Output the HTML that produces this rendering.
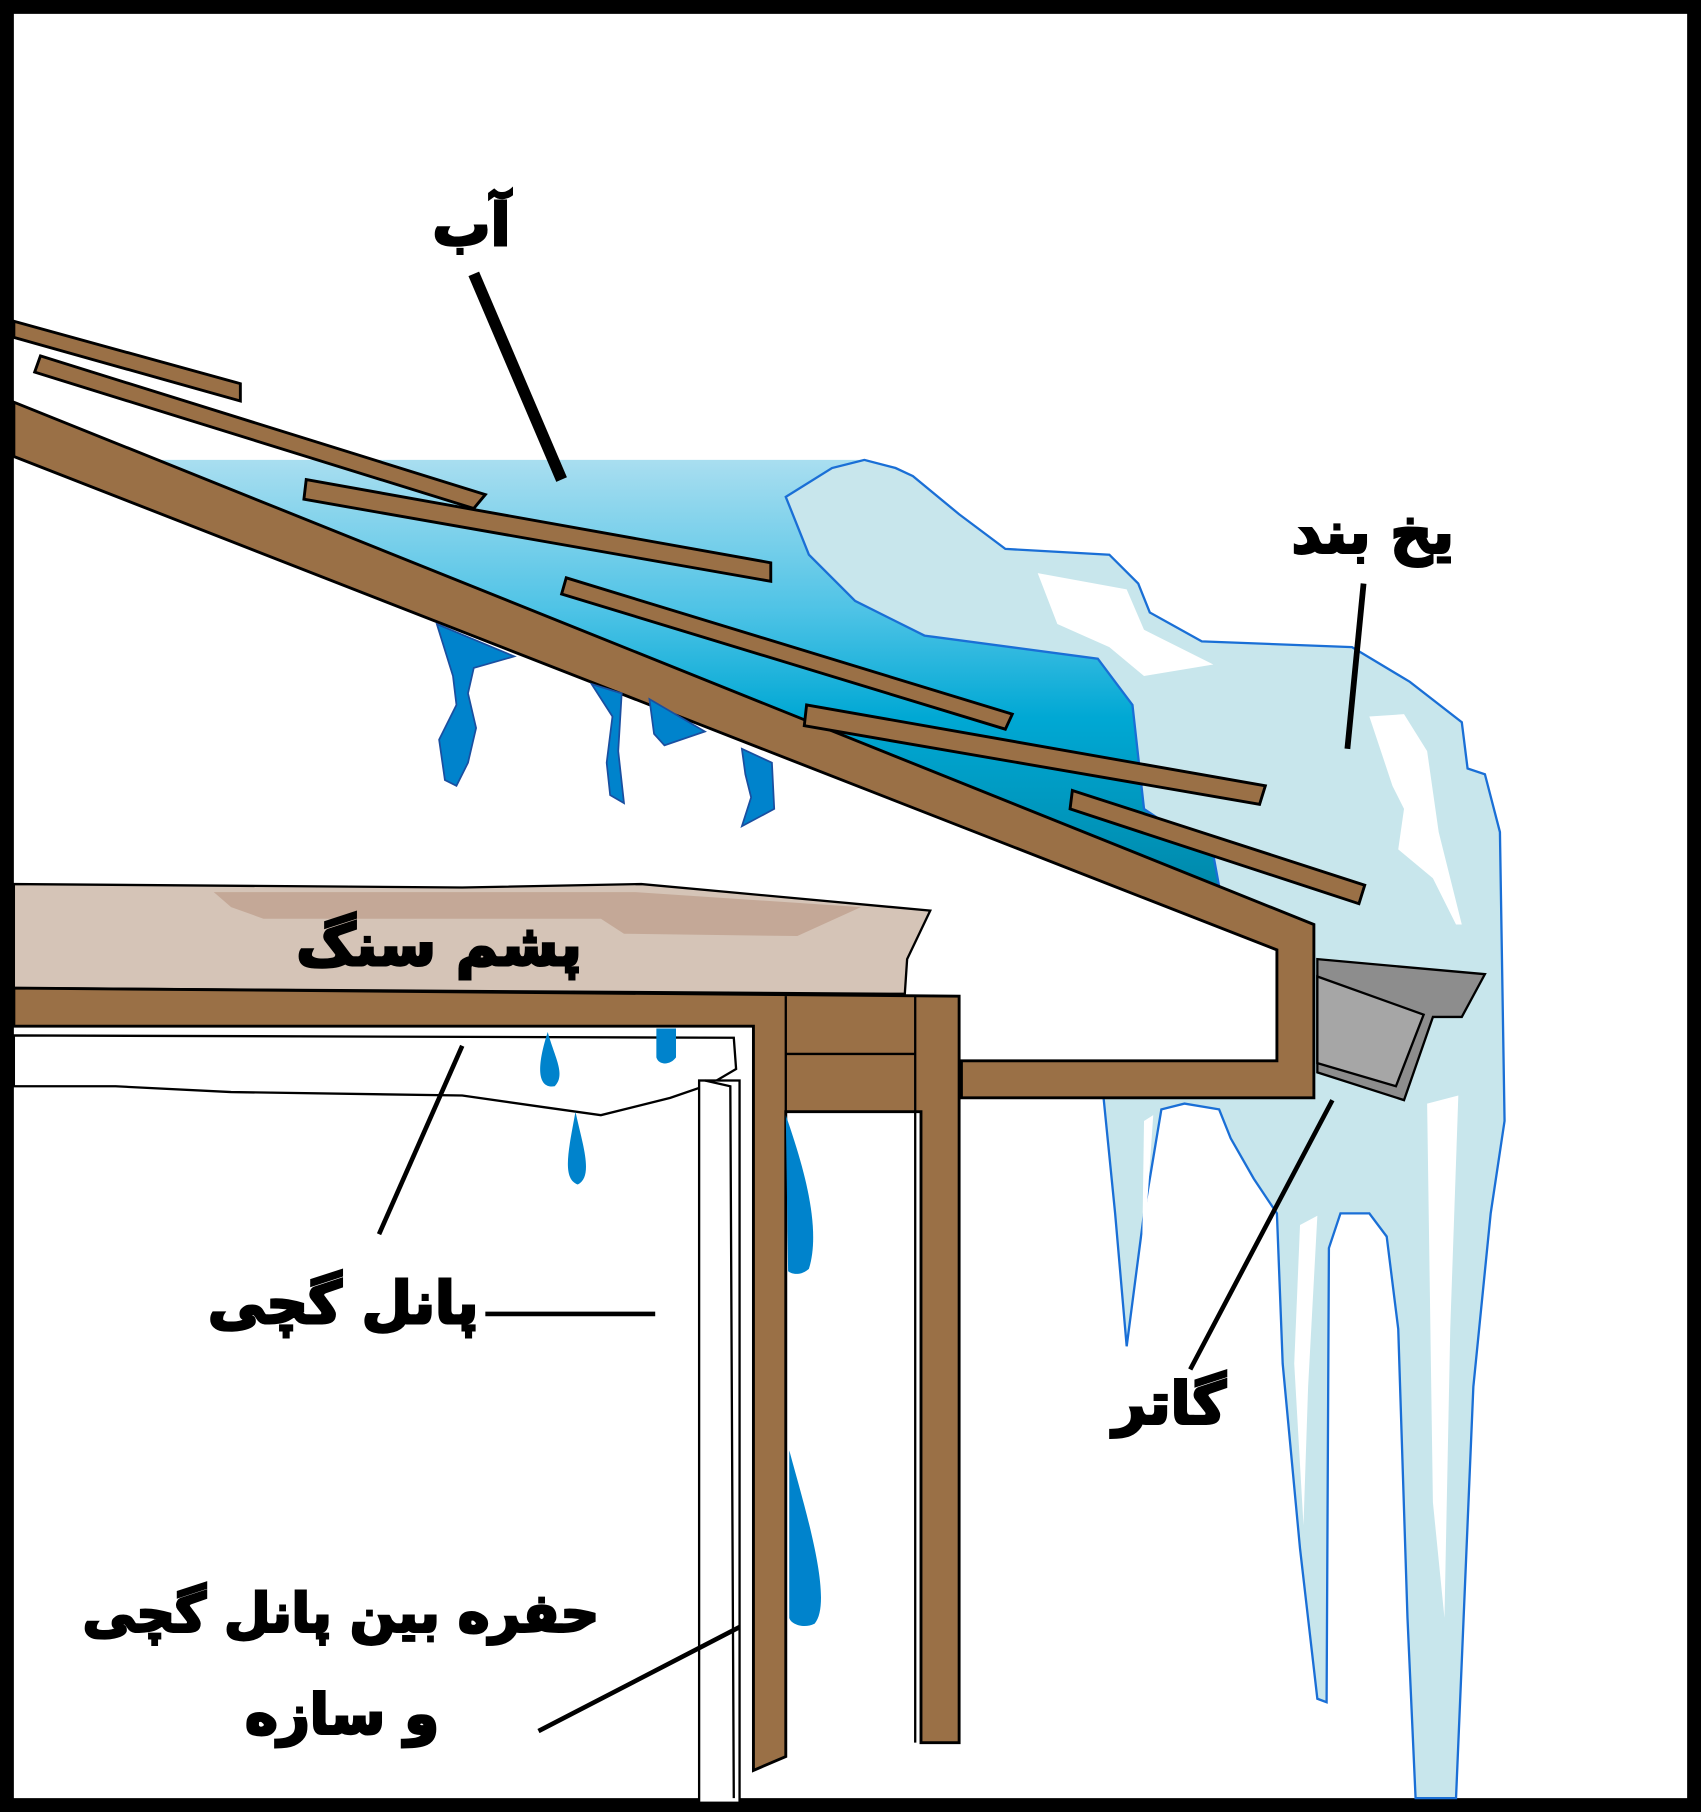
<!DOCTYPE html>
<html><head><meta charset="utf-8"><style>
html,body{margin:0;padding:0;background:#fff}
svg{display:block}
text{font-family:"DejaVu Sans","Noto Sans CJK SC",sans-serif;font-weight:bold;fill:#000;stroke:#000;stroke-width:2.5}
</style></head><body>
<svg width="1701" height="1812" viewBox="0 0 1472 1568" preserveAspectRatio="none" xmlns="http://www.w3.org/2000/svg">
<defs>
<linearGradient id="w" x1="0" y1="398" x2="0" y2="770" gradientUnits="userSpaceOnUse">
<stop offset="0" stop-color="#a9def0"/><stop offset="0.35" stop-color="#4ec3e6"/><stop offset="0.6" stop-color="#00a8d4"/><stop offset="1" stop-color="#0089ab"/>
</linearGradient>
</defs>
<rect x="0" y="0" width="1472" height="1568" fill="#000"/>
<rect x="12" y="12" width="1448" height="1544" fill="#fff"/>

<polygon points="140,398 750,398 680,430 700,480 740,520 800,550 950,570 980,610 990,700 1050,740 1055,767 140,399" fill="url(#w)"/>

<path d="M680,430 L720,405 748,398 775,405 790,412 830,445 870,475 960,480 985,505 995,530 1040,555 1170,560 1220,590 1265,625 1270,665 1285,670 1298,720 1302,970 1290,1050 1275,1200 1260,1556 1225,1556 1218,1400 1210,1150 1200,1070 1185,1050 1160,1050 1150,1080 1148,1473 1140,1470 1125,1340 1110,1180 1105,1050 1085,1020 1065,985 1055,960 1025,955 1005,960 990,1050 975,1165 965,1050 955,950 1137,950 1137,800 1055,767 1050,740 990,700 980,610 950,570 800,550 740,520 700,480 Z" fill="#c8e6ec" stroke="#1a6fd6" stroke-width="2"/>
<polygon points="898,496 975,510 990,545 1050,575 990,585 960,560 915,540" fill="#fff"/>
<polygon points="1185,620 1215,618 1235,650 1245,720 1265,800 1260,800 1240,760 1210,735 1215,700 1205,680" fill="#fff"/>
<polygon points="1235,955 1262,948 1255,1150 1250,1400 1240,1300" fill="#fff"/>
<polygon points="1125,1060 1140,1052 1132,1200 1128,1320 1120,1180" fill="#fff"/>
<polygon points="990,970 998,965 988,1110" fill="#fff"/>

<polygon points="1140,830 1285,843 1265,880 1240,880 1215,952 1140,928" fill="#8d8d8d" stroke="#000" stroke-width="2"/>
<polygon points="1140,845 1232,878 1208,940 1140,920" fill="#a6a6a6" stroke="#000" stroke-width="2"/>

<polygon points="12,348 1137,800 1137,950 832,950 832,918 1105,918 1105,822 12,395" fill="#9a7046" stroke="#000" stroke-width="2.5"/>

<g fill="#9a7046" stroke="#000" stroke-width="2.5">
<polygon points="12,278 208,332 208,347 12,292"/>
<polygon points="35,308 420,428 410,440 30,322"/>
<polygon points="265,415 667,487 667,503 263,432"/>
<polygon points="490,500 876,618 870,631 486,514"/>
<polygon points="698,610 1095,680 1090,696 696,628"/>
<polygon points="928,684 1181,766 1176,782 926,700"/>
</g>

<g fill="#0083cc" stroke="#1a4fa0" stroke-width="1.5">
<path d="M378,540 L445,568 410,578 405,600 412,630 405,660 395,680 385,675 380,640 395,610 392,585 Z"/>
<path d="M512,592 L538,600 535,650 540,695 528,688 525,660 530,620 Z"/>
<path d="M562,605 L610,633 575,645 566,635 Z"/>
<path d="M642,648 L668,660 670,700 642,715 650,690 645,670 Z"/>
</g>

<polygon points="12,765 400,768 555,765 805,788 785,830 783,860 12,855" fill="#d5c4b7" stroke="#000" stroke-width="2"/>
<polygon points="185,772 550,772 745,785 690,810 540,808 520,795 228,795 200,785" fill="#c4a897"/>

<path d="M12,896 L635,898 637,925 615,938 580,950 520,965 470,958 400,948 200,945 100,940 12,940 Z" fill="#fff" stroke="#000" stroke-width="2"/>
<rect x="605" y="935" width="35" height="625" fill="#fff" stroke="#000" stroke-width="2"/>
<path d="M610,935 L632,940 635,1556" fill="none" stroke="#000" stroke-width="2"/>

<polygon points="12,855 830,862 830,1508 797,1508 797,962 680,962 680,1520 652,1532 652,888 12,888" fill="#9a7046" stroke="#000" stroke-width="2.5"/>
<line x1="680" y1="862" x2="680" y2="962" stroke="#000" stroke-width="2"/>
<line x1="680" y1="912" x2="792" y2="912" stroke="#000" stroke-width="2"/>
<line x1="792" y1="862" x2="792" y2="1508" stroke="#000" stroke-width="2"/>

<g fill="#0083cc">
<path d="M474,893 C480,915 490,930 480,940 C468,942 462,930 474,893Z"/>
<path d="M568,890 L585,890 L585,915 C580,922 570,922 568,915Z"/>
<path d="M498,962 C504,990 514,1018 500,1025 C486,1020 492,995 498,962Z"/>
<path d="M680,965 C692,1000 712,1060 700,1098 C692,1105 684,1102 682,1100Z"/>
<path d="M683,1255 C695,1300 722,1385 705,1405 C695,1410 684,1405 683,1400Z"/>
</g>

<g stroke="#000" fill="none">
<line x1="410" y1="237" x2="486" y2="415" stroke-width="10"/>
<line x1="1180" y1="505" x2="1166" y2="648" stroke-width="5"/>
<line x1="400" y1="905" x2="328" y2="1068" stroke-width="4"/>
<line x1="420" y1="1137" x2="567" y2="1137" stroke-width="4"/>
<line x1="1153" y1="952" x2="1030" y2="1185" stroke-width="4"/>
<line x1="466" y1="1498" x2="640" y2="1408" stroke-width="4"/>
</g>

<g text-anchor="middle" direction="rtl">
<text x="408" y="212" font-size="50">آب</text>
<text x="1188" y="478" font-size="50">یخ بند</text>
<text x="380" y="835" font-size="50">پشم سنگ</text>
<text x="297" y="1145" font-size="50">پانل گچی</text>
<text x="1012" y="1232" font-size="50">گاتر</text>
<text x="295" y="1412" font-size="46">حفره بین پانل گچی</text>
<text x="296" y="1500" font-size="48">و سازه</text>
</g>
</svg>
</body></html>
